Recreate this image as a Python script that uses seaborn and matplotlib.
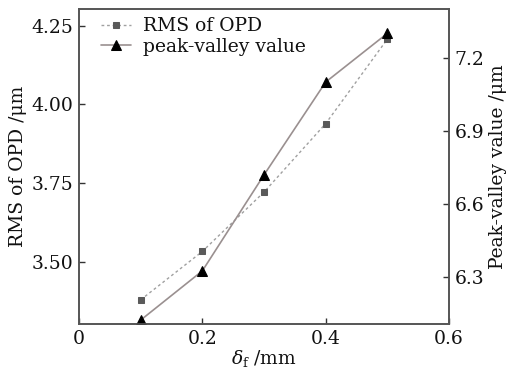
import numpy as np
import pandas as pd
import matplotlib
matplotlib.use("Agg")
import matplotlib.pyplot as plt
import seaborn as sns

delta_f = [0.1, 0.2, 0.3, 0.4, 0.5]
rms_opd = [3.378, 3.532, 3.721, 3.939, 4.208]
peak_valley = [6.123, 6.325, 6.719, 7.100, 7.300]

sns.set_theme(style="white")
plt.rcParams['font.family'] = ['DejaVu Serif']
plt.rcParams['mathtext.fontset'] = 'dejavuserif'

df = pd.DataFrame({"x": delta_f, "rms": rms_opd, "pv": peak_valley})

fig = plt.figure(figsize=(5.08, 3.74), dpi=100)
ax = fig.add_axes([79/508, 50/374, (449-79)/508, (324-9)/374])
ax2 = ax.twinx()

sns.lineplot(data=df, x="x", y="rms", ax=ax, color="#a0a0a0", linestyle=(0, (2, 2)),
             linewidth=1.0, marker="s", markersize=5, markerfacecolor="#5a5a5a",
             markeredgecolor="#5a5a5a", label="RMS of OPD", legend=False)
sns.lineplot(data=df, x="x", y="pv", ax=ax2, color="#9a9090", linestyle="-",
             linewidth=1.2, marker="^", markersize=7, markerfacecolor="black",
             markeredgecolor="black", label="peak-valley value", legend=False)

ax.set_xlim(0, 0.6)
ax.set_ylim(3.301, 4.304)
ax2.set_ylim(6.107, 7.40)
ax.set_xticks([0, 0.2, 0.4, 0.6])
ax.set_xticklabels(["0", "0.2", "0.4", "0.6"])
ax.set_yticks([3.50, 3.75, 4.00, 4.25])
ax.set_yticklabels(["3.50", "3.75", "4.00", "4.25"])
ax2.set_yticks([6.3, 6.6, 6.9, 7.2])
ax2.set_yticklabels(["6.3", "6.6", "6.9", "7.2"])

fs = 13.5
for a in (ax, ax2):
    a.tick_params(direction="in", length=4, width=1, colors="#333333", labelsize=fs, pad=4)
    for s in a.spines.values():
        s.set_color("#555555")
        s.set_linewidth(1.2)
ax.tick_params(axis="y", which="both", left=True, right=False)
ax.tick_params(axis="x", bottom=True)
ax2.tick_params(axis="y", right=True, left=False)
for lab in ax.get_xticklabels() + ax.get_yticklabels() + ax2.get_yticklabels():
    lab.set_color("#111111")

ax.set_xlabel(r"$\delta_\mathrm{f}$ /mm", fontsize=fs, color="#111111", labelpad=0)
ax.set_ylabel("RMS of OPD /μm", fontsize=fs, color="#111111", labelpad=3)
ax2.set_ylabel("Peak-valley value /μm", fontsize=fs, color="#111111", labelpad=3)

h1, l1 = ax.get_legend_handles_labels()
h2, l2 = ax2.get_legend_handles_labels()
leg = ax.legend(h1 + h2, l1 + l2, loc="upper left", frameon=False, fontsize=fs,
                bbox_to_anchor=(0.03, 1.01), handlelength=1.6, handletextpad=0.6,
                labelspacing=0.15, borderaxespad=0.2)
for t in leg.get_texts():
    t.set_color("#111111")

fig.savefig("out.png", dpi=100)
